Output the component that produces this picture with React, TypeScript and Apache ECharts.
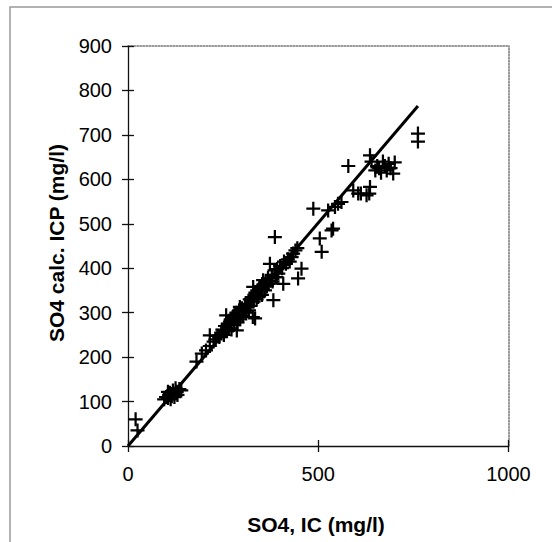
import React, { useEffect, useRef } from "react";
import * as echarts from "echarts";

const xTicks = [0, 500, 1000];
const yTicks = [0, 100, 200, 300, 400, 500, 600, 700, 800, 900];
const xTitle = "SO4, IC (mg/l)";
const yTitle = "SO4 calc. ICP (mg/l)";

// SO4 by IC (x) vs SO4 calculated from ICP (y), mg/l
const points: number[][] = [
  [20, 60], [25, 35],
  [95, 105], [100, 110], [105, 108], [108, 115], [110, 120], [112, 105], [115, 112], [118, 125],
  [120, 118], [122, 110], [125, 130], [128, 122], [130, 115], [135, 128], [140, 125], [105, 122],
  [180, 190], [194, 208], [205, 215], [215, 225], [215, 249], [225, 235], [230, 240], [235, 248],
  [240, 245], [245, 255], [248, 262], [252, 250], [255, 270], [258, 294], [260, 258], [262, 275],
  [265, 265], [268, 280], [270, 285], [272, 262], [275, 290], [278, 272], [280, 295], [282, 285],
  [285, 300], [286, 260], [288, 278], [290, 290], [292, 305], [294, 313], [295, 285], [298, 298],
  [300, 310], [302, 292], [305, 305], [308, 318], [310, 300], [312, 312], [315, 320], [318, 305],
  [320, 330], [322, 315], [325, 335], [328, 290], [329, 358], [330, 325], [332, 340], [334, 287],
  [335, 345], [338, 330], [340, 350], [342, 335], [345, 355], [348, 345], [350, 360], [352, 340],
  [355, 373], [358, 365], [360, 350], [362, 370], [365, 360], [368, 378], [370, 365], [373, 410],
  [375, 372], [378, 385], [380, 370], [382, 328], [385, 395], [386, 470], [388, 380], [390, 380],
  [392, 398], [395, 388], [400, 405], [405, 400], [408, 365], [410, 415], [415, 410], [420, 420],
  [425, 415], [430, 425], [434, 433], [440, 440], [445, 445], [447, 377], [456, 399],
  [487, 534], [504, 467], [509, 437], [526, 530], [535, 485], [539, 489], [544, 538], [552, 545],
  [561, 549], [579, 630], [592, 575], [605, 568], [612, 568], [627, 564], [636, 583], [634, 568],
  [636, 654], [640, 640], [650, 620], [655, 630], [660, 625], [665, 615], [670, 640], [675, 630],
  [680, 620], [685, 635], [690, 625], [697, 613], [701, 638], [762, 703], [762, 685],
];

// fitted line end points
const fitLine: number[][] = [
  [0, 0],
  [762, 765],
];

const PLUS = "path://M42,0 H58 V42 H100 V58 H58 V100 H42 V58 H0 V42 H42 Z";
const FONT = "Arial, 'Liberation Sans', Helvetica, sans-serif";

export default function App() {
  const ref = useRef<HTMLDivElement>(null);
  useEffect(() => {
    document.body.style.margin = "0";
    const chart = echarts.init(ref.current!, undefined, { renderer: "svg" });
    const xMin = xTicks[0];
    const xMax = xTicks[xTicks.length - 1];
    const xInt = xTicks[1] - xTicks[0];
    const yMin = yTicks[0];
    const yMax = yTicks[yTicks.length - 1];
    const yInt = yTicks[1] - yTicks[0];
    const fmt = (v: number) => String(v);
    const baseX = { type: "value", min: xMin, max: xMax, interval: xInt, splitLine: { show: false } };
    const baseY = { type: "value", min: yMin, max: yMax, interval: yInt, splitLine: { show: false } };
    chart.setOption({
      animation: false,
      backgroundColor: "#fff",
      grid: { left: 128, top: 46, right: 43.5, bottom: 96, containLabel: false },
      xAxis: [
        {
          ...baseX,
          position: "bottom",
          axisLine: { show: true, onZero: false, lineStyle: { color: "#111", width: 1.3 } },
          axisTick: { show: true, inside: false, length: 6, lineStyle: { color: "#111", width: 1.3 } },
          axisLabel: { show: true, fontSize: 20, color: "#000", fontFamily: FONT, margin: 18, formatter: fmt },
        },
        {
          ...baseX,
          position: "bottom",
          axisLine: { show: false },
          axisTick: { show: true, inside: true, length: 6, lineStyle: { color: "#111", width: 1.3 } },
          axisLabel: { show: false },
        },
        {
          ...baseX,
          position: "top",
          axisLine: { show: true, onZero: false, lineStyle: { color: "#777", width: 1.5, type: "dotted" } },
          axisTick: { show: false },
          axisLabel: { show: false },
        },
      ],
      yAxis: [
        {
          ...baseY,
          position: "left",
          axisLine: { show: true, onZero: false, lineStyle: { color: "#111", width: 1.3 } },
          axisTick: { show: true, inside: false, length: 6, lineStyle: { color: "#111", width: 1.3 } },
          axisLabel: { show: true, fontSize: 20, color: "#000", fontFamily: FONT, margin: 16, formatter: fmt },
        },
        {
          ...baseY,
          position: "left",
          axisLine: { show: false },
          axisTick: { show: true, inside: true, length: 6, lineStyle: { color: "#111", width: 1.3 } },
          axisLabel: { show: false },
        },
        {
          ...baseY,
          position: "right",
          axisLine: { show: true, onZero: false, lineStyle: { color: "#777", width: 1.5, type: "dotted" } },
          axisTick: { show: false },
          axisLabel: { show: false },
        },
      ],
      graphic: [
        {
          type: "rect",
          shape: { x: 10, y: 7, width: 600, height: 600 },
          style: { fill: "none", stroke: "#999", lineWidth: 1.5 },
          silent: true,
        },
        {
          type: "text",
          x: 316,
          y: 524,
          style: {
            text: xTitle,
            fontSize: 21,
            fontWeight: "bold",
            fontFamily: FONT,
            fill: "#000",
            align: "center",
            verticalAlign: "middle",
          },
        },
        {
          type: "text",
          x: 56,
          y: 243,
          rotation: Math.PI / 2,
          style: {
            text: yTitle,
            fontSize: 21,
            fontWeight: "bold",
            fontFamily: FONT,
            fill: "#000",
            align: "center",
            verticalAlign: "middle",
          },
        },
      ],
      series: [
        {
          type: "scatter",
          xAxisIndex: 0,
          yAxisIndex: 0,
          data: points,
          symbol: PLUS,
          symbolSize: 14,
          itemStyle: { color: "#000", opacity: 1 },
          silent: true,
        },
        {
          type: "line",
          xAxisIndex: 0,
          yAxisIndex: 0,
          data: fitLine,
          symbol: "none",
          lineStyle: { color: "#000", width: 3 },
          silent: true,
        },
      ],
    });
    return () => chart.dispose();
  }, []);
  return <div ref={ref} style={{ width: 552, height: 542 }} />;
}
